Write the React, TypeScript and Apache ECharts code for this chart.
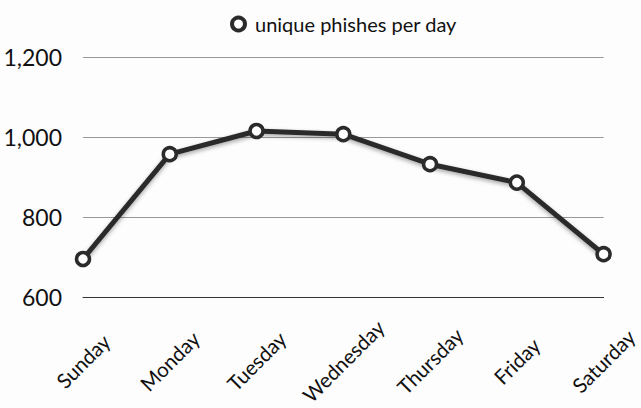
import React, { useEffect, useRef } from "react";
import * as echarts from "echarts";

const days = ["Sunday", "Monday", "Tuesday", "Wednesday", "Thursday", "Friday", "Saturday"];
const phishes = [695, 957, 1015, 1007, 932, 886, 707];
const seriesName = "unique phishes per day";
const yMin = 600;
const yMax = 1200;
const yStep = 200;

export default function App() {
  const ref = useRef<HTMLDivElement>(null);
  useEffect(() => {
    document.body.style.margin = "0";
    const chart = echarts.init(ref.current!, null, { renderer: "svg" });
    const font = "Lato, 'Open Sans', sans-serif";
    chart.setOption({
      animation: false,
      backgroundColor: "#fdfdfd",
      legend: {
        data: [seriesName],
        left: 225,
        top: 9,
        icon: "circle",
        itemWidth: 13,
        itemHeight: 13,
        itemGap: 10,
        itemStyle: { color: "#ffffff", borderColor: "#2b2b2b", borderWidth: 4 },
        textStyle: { fontFamily: font, fontSize: 20, color: "#111", padding: [0, 0, 0, 5] },
      },
      grid: { left: 83, right: 36, top: 57, bottom: 111, containLabel: false },
      xAxis: {
        type: "category",
        data: days,
        boundaryGap: false,
        axisLine: { show: true, lineStyle: { color: "#333", width: 1 } },
        axisTick: { show: false },
        splitLine: { show: false },
        axisLabel: {
          rotate: 45,
          align: "center",
          verticalAlign: "middle",
          margin: 64,
          interval: 0,
          fontFamily: font,
          fontSize: 20.5,
          color: "#111",
        },
      },
      yAxis: {
        type: "value",
        min: yMin,
        max: yMax,
        interval: yStep,
        axisLine: { show: false },
        axisTick: { show: false },
        splitLine: { show: true, lineStyle: { color: "#999", width: 1 } },
        axisLabel: {
          margin: 21,
          fontFamily: font,
          fontSize: 23,
          color: "#111",
          formatter: (v: number) => v.toLocaleString("en-US"),
        },
      },
      series: [
        {
          name: seriesName,
          type: "line",
          data: phishes,
          symbol: "circle",
          symbolSize: 13,
          showAllSymbol: true,
          lineStyle: {
            color: "#2b2b2b",
            width: 5,
            shadowColor: "rgba(0,0,0,0.35)",
            shadowBlur: 4,
            shadowOffsetY: 2,
          },
          itemStyle: {
            color: "#ffffff",
            borderColor: "#2b2b2b",
            borderWidth: 3.5,
          },
        },
      ],
    });
    return () => chart.dispose();
  }, []);
  return <div ref={ref} style={{ width: 641, height: 408 }} />;
}
